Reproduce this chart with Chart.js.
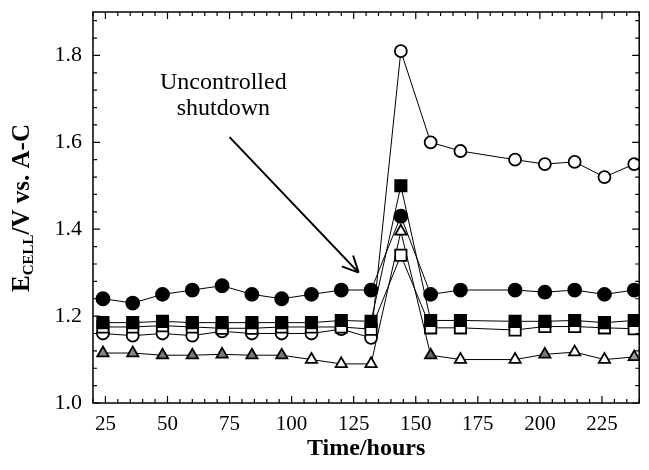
<!DOCTYPE html>
<html>
<head>
<meta charset="utf-8">
<script src="https://cdn.jsdelivr.net/npm/chart.js@4"></script>
<style>
  html, body { margin: 0; padding: 0; background: #fff; }
  #wrap { width: 649px; height: 470px; }
</style>
</head>
<body>
<div id="wrap"><canvas id="cellChart" width="649" height="470"></canvas></div>
<script>
// Data
const hours = [24, 36, 48, 60, 72, 84, 96, 108, 120, 132, 144, 156, 168, 190, 202, 214, 226, 238];
const openCircle   = [1.16, 1.155, 1.16, 1.155, 1.165, 1.16, 1.16, 1.16, 1.17, 1.15, 1.81, 1.60, 1.58, 1.56, 1.55, 1.555, 1.52, 1.55];
const filledCircle = [1.24, 1.23, 1.25, 1.26, 1.27, 1.25, 1.24, 1.25, 1.26, 1.26, 1.43, 1.25, 1.26, 1.26, 1.255, 1.26, 1.25, 1.26];
const filledSquare = [1.185, 1.185, 1.188, 1.185, 1.185, 1.185, 1.185, 1.185, 1.19, 1.188, 1.50, 1.19, 1.19, 1.188, 1.188, 1.19, 1.185, 1.19];
const openSquare   = [1.175, 1.175, 1.178, 1.175, 1.172, 1.172, 1.175, 1.175, 1.175, 1.17, 1.34, 1.173, 1.173, 1.168, 1.176, 1.176, 1.173, 1.171];
const triangle     = [1.115, 1.115, 1.11, 1.11, 1.112, 1.11, 1.11, 1.10, 1.09, 1.09, 1.395, 1.11, 1.10, 1.10, 1.112, 1.117, 1.10, 1.106];

const xTicks = [25, 50, 75, 100, 125, 150, 175, 200, 225];
const yTicks = [1.0, 1.2, 1.4, 1.6, 1.8];

// triangle fill per point (some look grey, some white)
const triFill = ["#888", "#888", "#777", "#777", "#777", "#777", "#777", "#fff", "#fff", "#fff", "#fff", "#666", "#fff", "#fff", "#777", "#fff", "#fff", "#999"];

const FONT = "'Liberation Serif', 'Times New Roman', serif";

function pts(ys) {
  return hours.map((h, i) => ({ x: h, y: ys[i] }));
}

function series(label, ys, style, fill, radius, order) {
  return {
    label,
    data: pts(ys),
    showLine: true,
    borderColor: "#000",
    borderWidth: 1,
    pointStyle: style,
    pointRadius: radius,
    pointHoverRadius: radius,
    pointBackgroundColor: fill,
    pointBorderColor: "#000",
    pointBorderWidth: 1.8,
    order
  };
}

// frame, inward ticks, axis titles and the annotation
const decorations = {
  id: "decorations",
  afterDraw(chart) {
    const ctx = chart.ctx;
    const { left, right, top, bottom } = chart.chartArea;
    const xs = chart.scales.x, ys = chart.scales.y;
    ctx.save();
    ctx.strokeStyle = "#000";
    ctx.lineWidth = 1.5;
    ctx.strokeRect(left, top, right - left, bottom - top);

    ctx.lineWidth = 1.2;
    ctx.beginPath();
    for (let v = 20; v <= 240; v += 5) {
      const px = xs.getPixelForValue(v);
      const len = v % 25 === 0 ? 7 : 4;
      ctx.moveTo(px, bottom); ctx.lineTo(px, bottom - len);
      ctx.moveTo(px, top); ctx.lineTo(px, top + len);
    }
    for (let k = 0; k <= 22; k++) {
      const v = 1.0 + k * 0.04;
      const py = ys.getPixelForValue(v);
      const len = k % 5 === 0 ? 7 : 4;
      ctx.moveTo(left, py); ctx.lineTo(left + len, py);
      ctx.moveTo(right, py); ctx.lineTo(right - len, py);
    }
    ctx.stroke();

    // x title
    ctx.fillStyle = "#000";
    ctx.font = "bold 24px " + FONT;
    ctx.textAlign = "center";
    ctx.textBaseline = "middle";
    ctx.fillText("Time/hours", (left + right) / 2, 449);

    // y title with subscript
    const big = "bold 25px " + FONT, small = "bold 15px " + FONT;
    ctx.font = big; const wE = ctx.measureText("E").width;
    const wRest = ctx.measureText("/V vs. A-C").width;
    ctx.font = small; const wSub = ctx.measureText("CELL").width;
    const total = wE + wSub + wRest;
    ctx.translate(23, 208);
    ctx.rotate(-Math.PI / 2);
    ctx.textAlign = "left";
    ctx.textBaseline = "middle";
    let cx = -total / 2;
    ctx.font = big; ctx.fillText("E", cx, 0); cx += wE;
    ctx.font = small; ctx.fillText("CELL", cx, 6); cx += wSub;
    ctx.font = big; ctx.fillText("/V vs. A-C", cx, 0);
    ctx.restore();

    // annotation
    ctx.save();
    ctx.fillStyle = "#000";
    ctx.font = "24px " + FONT;
    ctx.textAlign = "center";
    ctx.textBaseline = "middle";
    const tx = xs.getPixelForValue(72.5);
    ctx.fillText("Uncontrolled", tx, ys.getPixelForValue(1.738));
    ctx.fillText("shutdown", tx, ys.getPixelForValue(1.678));
    const x0 = xs.getPixelForValue(75), y0 = ys.getPixelForValue(1.612);
    const x1 = xs.getPixelForValue(127), y1 = ys.getPixelForValue(1.30);
    ctx.strokeStyle = "#000";
    ctx.lineWidth = 2;
    ctx.beginPath();
    ctx.moveTo(x0, y0); ctx.lineTo(x1, y1);
    const ang = Math.atan2(y1 - y0, x1 - x0);
    const hl = 18, spread = 0.45;
    ctx.moveTo(x1, y1); ctx.lineTo(x1 - hl * Math.cos(ang - spread), y1 - hl * Math.sin(ang - spread));
    ctx.moveTo(x1, y1); ctx.lineTo(x1 - hl * Math.cos(ang + spread), y1 - hl * Math.sin(ang + spread));
    ctx.stroke();
    ctx.restore();
  }
};

new Chart(document.getElementById("cellChart"), {
  type: "scatter",
  data: {
    datasets: [
      series("open circles", openCircle, "circle", "#fff", 6, 5),
      series("filled circles", filledCircle, "circle", "#000", 6.5, 4),
      series("filled squares", filledSquare, "rect", "#000", 8, 1),
      series("open squares", openSquare, "rect", "#fff", 8, 2),
      series("triangles", triangle, "triangle", triFill, 6.5, 3)
    ]
  },
  options: {
    responsive: false,
    animation: false,
    layout: { padding: { top: 12, right: 9, left: 0, bottom: 0 } },
    plugins: {
      legend: { display: false },
      tooltip: { enabled: false }
    },
    scales: {
      x: {
        type: "linear",
        min: 20,
        max: 240,
        grid: { display: false, drawTicks: false },
        border: { display: false },
        afterBuildTicks: s => { s.ticks = xTicks.map(v => ({ value: v })); },
        afterFit: s => { s.height = 67; s.paddingLeft = 0; s.paddingRight = 0; },
        ticks: {
          padding: 9,
          color: "#000",
          maxRotation: 0,
          font: { family: FONT, size: 21 },
          callback: v => String(v)
        }
      },
      y: {
        min: 1.0,
        max: 1.9,
        grid: { display: false, drawTicks: false },
        border: { display: false },
        afterBuildTicks: s => { s.ticks = yTicks.map(v => ({ value: v })); },
        afterFit: s => { s.width = 93; s.paddingTop = 0; s.paddingBottom = 0; },
        ticks: {
          padding: 11,
          color: "#000",
          font: { family: FONT, size: 22 },
          callback: v => Number(v).toFixed(1)
        }
      }
    }
  },
  plugins: [decorations]
});
</script>
</body>
</html>
